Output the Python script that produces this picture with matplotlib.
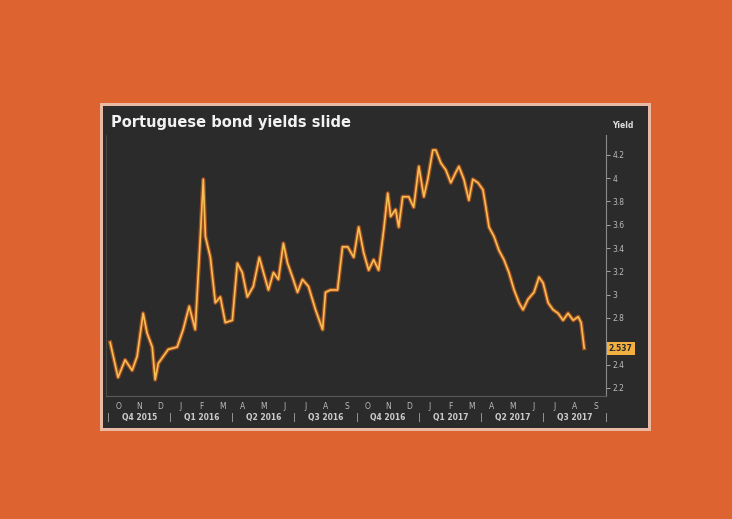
import matplotlib
matplotlib.use("Agg")
import matplotlib.pyplot as plt
from matplotlib.patches import Rectangle
import matplotlib.transforms as mtransforms

# months since 1 Oct 2015
months = [0.10, 0.48, 0.82, 1.16, 1.40, 1.69, 1.88, 2.13, 2.27, 2.42, 2.66, 2.90,
          3.33, 3.62, 3.91, 4.20, 4.44, 4.59, 4.69, 4.93, 5.17, 5.41, 5.65, 5.99,
          6.23, 6.47, 6.71, 7.00, 7.29, 7.49, 7.73, 7.97, 8.21, 8.45, 8.65, 8.89,
          9.13, 9.37, 9.66, 10.00, 10.34, 10.48, 10.72, 11.06, 11.30, 11.55, 11.84,
          12.08, 12.32, 12.56, 12.80, 13.04, 13.29, 13.48, 13.62, 13.86, 14.01,
          14.20, 14.49, 14.73, 14.98, 15.22, 15.41, 15.65, 15.80, 16.04, 16.28,
          16.52, 16.76, 16.91, 17.15, 17.39, 17.58, 17.83, 18.07, 18.21, 18.36,
          18.60, 18.84, 19.08, 19.32, 19.57, 19.81, 20.00, 20.24, 20.53, 20.77,
          20.97, 21.21, 21.45, 21.69, 21.93, 22.17, 22.42, 22.66, 22.80, 22.95]
yields = [2.59, 2.29, 2.44, 2.35, 2.47, 2.84, 2.67, 2.55, 2.27, 2.41, 2.47, 2.53,
          2.55, 2.70, 2.90, 2.70, 3.47, 3.99, 3.50, 3.32, 2.93, 2.98, 2.76, 2.78,
          3.27, 3.19, 2.98, 3.07, 3.32, 3.19, 3.04, 3.19, 3.13, 3.44, 3.27, 3.15,
          3.02, 3.13, 3.07, 2.87, 2.70, 3.02, 3.04, 3.04, 3.41, 3.41, 3.32,
          3.58, 3.36, 3.21, 3.30, 3.21, 3.56, 3.87, 3.67, 3.73, 3.58,
          3.84, 3.84, 3.75, 4.10, 3.84, 3.99, 4.24, 4.24, 4.13, 4.07,
          3.96, 4.05, 4.10, 3.99, 3.81, 3.99, 3.96, 3.90, 3.75, 3.58,
          3.50, 3.38, 3.30, 3.19, 3.04, 2.93, 2.87, 2.96, 3.02, 3.15,
          3.10, 2.93, 2.87, 2.84, 2.78, 2.84, 2.78, 2.81, 2.76, 2.54]
last_label = "2.537"

month_letters = ["O", "N", "D", "J", "F", "M", "A", "M", "J", "J", "A", "S",
                 "O", "N", "D", "J", "F", "M", "A", "M", "J", "J", "A", "S"]
quarter_labels = ["Q4 2015", "Q1 2016", "Q2 2016", "Q3 2016", "Q4 2016",
                  "Q1 2017", "Q2 2017", "Q3 2017"]
ytick_vals = [2.2, 2.4, 2.8, 3.0, 3.2, 3.4, 3.6, 3.8, 4.0, 4.2]
ytick_labels = ["2.2", "2.4", "2.8", "3", "3.2", "3.4", "3.6", "3.8", "4", "4.2"]
title = "Portuguese bond yields slide"

W, H = 732, 519
fig = plt.figure(figsize=(W / 100, H / 100), dpi=100)
fig.patch.set_facecolor("#DD6331")

def fx(px):
    return px / W

def fy(py):
    return 1 - py / H

# background axes holding the panel
bg = fig.add_axes([0, 0, 1, 1], zorder=-5)
bg.set_xlim(0, 1)
bg.set_ylim(0, 1)
bg.axis("off")
bg.add_patch(Rectangle((fx(100), fy(431)), fx(651) - fx(100), fy(103) - fy(431),
                       facecolor="#E9B9A3", edgecolor="none"))
bg.add_patch(Rectangle((fx(103), fy(428)), fx(648) - fx(103), fy(106) - fy(428),
                       facecolor="#2B2B2B", edgecolor="none"))
bg.text(fx(111), fy(122), title, color="#F2F2F2", fontsize=10.5,
        fontweight="bold", va="center", ha="left")

ax = fig.add_axes([fx(106), fy(396), fx(606) - fx(106), fy(135) - fy(396)], zorder=1)
ax.set_facecolor("#2B2B2B")
ax.set_xlim(-0.1, 24.0)
ax.set_ylim(2.13, 4.37)

ax.plot(months, yields, color="#B8561E", lw=3.0, alpha=0.8, solid_joinstyle="round")
ax.plot(months, yields, color="#F7BE55", lw=1.2, solid_joinstyle="round")

ax.spines["top"].set_visible(False)
ax.spines["left"].set_color("#474747")
ax.spines["left"].set_linewidth(0.8)
ax.spines["right"].set_color("#8A8A8A")
ax.spines["right"].set_linewidth(0.8)
ax.spines["bottom"].set_color("#5A5A5A")
ax.spines["bottom"].set_linewidth(0.8)

ax.yaxis.tick_right()
ax.set_yticks(ytick_vals)
ax.set_yticklabels(ytick_labels)
ax.tick_params(axis="y", colors="#BBBBBB", labelsize=5.5, length=3, width=0.6, pad=1.5)
ax.text(1.012, 1.035, "Yield", transform=ax.transAxes, color="#DDDDDD",
        fontsize=5.5, fontweight="bold", ha="left", va="center")

ax.set_xticks([i + 0.5 for i in range(24)])
ax.set_xticklabels(month_letters)
ax.tick_params(axis="x", colors="#BBBBBB", labelsize=5.5, length=0, pad=4)

trans = mtransforms.blended_transform_factory(ax.transData, ax.transAxes)
qstarts = [0, 3, 6, 9, 12, 15, 18, 21]
for q, lab in zip(qstarts, quarter_labels):
    ax.text(q + 1.5, -0.082, lab, transform=trans, color="#CCCCCC", fontsize=5.5,
            fontweight="bold", ha="center", va="center", clip_on=False)
for b in qstarts + [24]:
    ax.text(b, -0.082, "|", transform=trans, color="#CCCCCC", fontsize=5.5,
            ha="center", va="center", clip_on=False)

# last value tag
ax.annotate(last_label, xy=(1.0, yields[-1]), xycoords=("axes fraction", "data"),
            xytext=(2, 0), textcoords="offset points", color="#2B2B2B",
            fontsize=5.5, fontweight="bold", ha="left", va="center",
            bbox=dict(boxstyle="square,pad=0.25", facecolor="#F2B040", edgecolor="none"),
            annotation_clip=False)

fig.savefig("out.png", dpi=100, facecolor=fig.get_facecolor())
